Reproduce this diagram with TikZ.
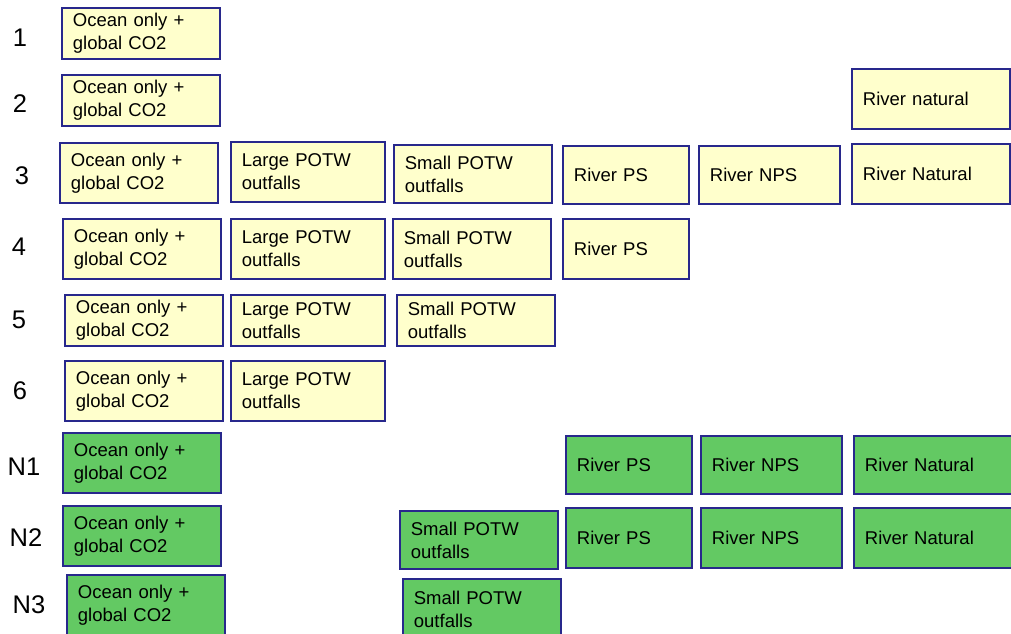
\documentclass[tikz,border=0pt]{standalone}
\usepackage{fontspec}
\setmainfont{Liberation Sans}
\usetikzlibrary{positioning}
\definecolor{boxline}{RGB}{40,40,140}
\definecolor{basefill}{RGB}{255,255,204}
\definecolor{nfill}{RGB}{99,201,99}
\tikzset{
runbox/.style={
  draw=boxline,
  line width=1.8pt,
  anchor=north west,
  align=left,
  inner xsep=11pt,
  inner ysep=2pt,
  minimum height=60pt,
  font=\fontsize{18.5}{23}\selectfont
},
basebox/.style={runbox, fill=basefill},
nbox/.style={runbox, fill=nfill},
shortbox/.style={minimum height=51pt},
midbox/.style={minimum height=58pt},
oceanw/.style={text width=136pt},
largew/.style={text width=132pt},
smallw/.style={text width=136pt},
psw/.style={text width=104pt},
npsw/.style={text width=119pt},
natw/.style={text width=136pt},
rowlab/.style={font=\fontsize{25.5}{30}\selectfont}
}
\begin{document}
\begin{tikzpicture}[x=1pt,y=-1pt]
\useasboundingbox (0,0) rectangle (1011,633);

% row labels
\node[rowlab] (l1) at (20,38) {1};
\node[rowlab] (l2) at (20,104) {2};
\node[rowlab] (l3) at (22,176) {3};
\node[rowlab] (l4) at (19,247) {4};
\node[rowlab] (l5) at (19,320) {5};
\node[rowlab] (l6) at (20,391) {6};
\node[rowlab] (ln1) at (24,467) {N1};
\node[rowlab] (ln2) at (26,538) {N2};
\node[rowlab] (ln3) at (29,605) {N3};

% run 1 and 2
\node[basebox, oceanw, shortbox] (o1) at (61,7) {Ocean only +\\global CO2};
\node[basebox, oceanw, shortbox] (o2) at (61,74) {Ocean only +\\global CO2};
\node[basebox, natw] (nat2) at (851,68) {River natural};

% run 3
\node[basebox, oceanw] (o3) at (59,142) {Ocean only +\\global CO2};
\node[basebox, largew] (lg3) at (230,141) {Large POTW\\outfalls};
\node[basebox, smallw, midbox] (sm3) at (393,144) {Small POTW\\outfalls};
\node[basebox, psw, midbox] (ps3) at (562,145) {River PS};
\node[basebox, npsw, midbox] (nps3) at (698,145) {River NPS};
\node[basebox, natw] (nat3) at (851,143) {River Natural};

% run 4
\node[basebox, oceanw] (o4) at (62,218) {Ocean only +\\global CO2};
\node[basebox, largew] (lg4) at (230,218) {Large POTW\\outfalls};
\node[basebox, smallw] (sm4) at (392,218) {Small POTW\\outfalls};
\node[basebox, psw] (ps4) at (562,218) {River PS};

% run 5 and 6
\node[basebox, oceanw, shortbox] (o5) at (64,294) {Ocean only +\\global CO2};
\node[basebox, largew, shortbox] (lg5) at (230,294) {Large POTW\\outfalls};
\node[basebox, smallw, shortbox] (sm5) at (396,294) {Small POTW\\outfalls};
\node[basebox, oceanw] (o6) at (64,360) {Ocean only +\\global CO2};
\node[basebox, largew] (lg6) at (230,360) {Large POTW\\outfalls};

% natural runs
\node[nbox, oceanw] (on1) at (62,432) {Ocean only +\\global CO2};
\node[nbox, psw, midbox] (psn1) at (565,435) {River PS};
\node[nbox, npsw, midbox] (npsn1) at (700,435) {River NPS};
\node[nbox, natw, midbox] (natn1) at (853,435) {River Natural};

\node[nbox, oceanw] (on2) at (62,505) {Ocean only +\\global CO2};
\node[nbox, smallw, midbox] (smn2) at (399,510) {Small POTW\\outfalls};
\node[nbox, psw] (psn2) at (565,507) {River PS};
\node[nbox, npsw] (npsn2) at (700,507) {River NPS};
\node[nbox, natw] (natn2) at (853,507) {River Natural};

\node[nbox, oceanw] (on3) at (66,574) {Ocean only +\\global CO2};
\node[nbox, smallw] (smn3) at (402,578) {Small POTW\\outfalls};

\end{tikzpicture}
\end{document}
